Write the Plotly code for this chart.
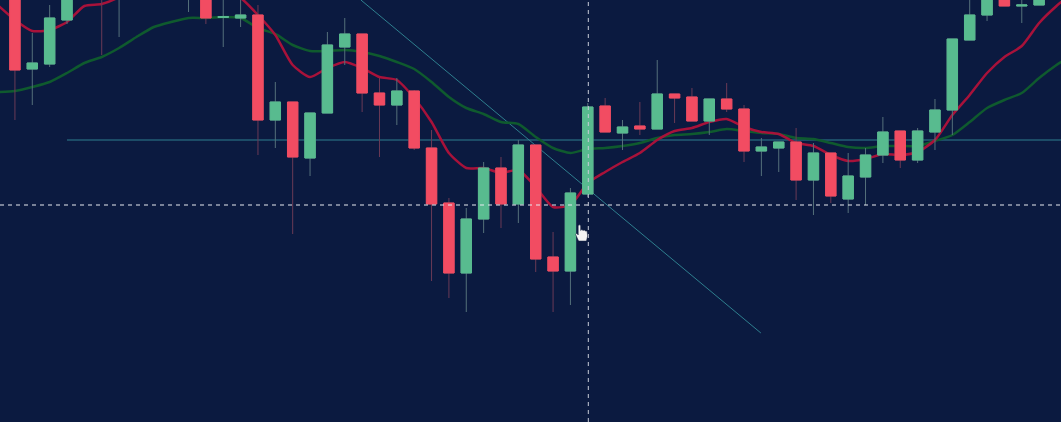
import plotly.graph_objects as go

candle_index = list(range(61))
opens = [432,353,358,402,467,462,432,442,472,437,427,427,404.5,404,407,302,320,264,309,375,388,329,317,331,274,219,149,203,254,218,277,165,151,228,316,289,296,293,328,325,301,323,313,271,274,280,242,269,223,245,267,291,262,290,312,382,407,427,416,417,445]
highs = [442,389,417,437,477,472,462,482,482,472,462,437,427,427,417,340,320,309,390,404,388,344,344,332,292,224,214,260,265,282,277,190,234,319,324,302,320,362,328,334,323,339,317,284,280,294,279,269,269,274,305,291,294,323,383,422,437,437,432,437,450]
lows = [302,317,355,398,427,367,385,427,430,427,410,398,375,395,267,274,188,246,309,357,310,265,297,272,141,124,110,189,194,199,150,110,117,225,290,272,287,293,299,301,287,310,260,246,250,222,207,219,209,217,259,254,259,272,287,382,401,416,399,417,430]
closes = [352,359,404,427,437,432,452,472,442,462,452,404,405.5,407,302,320,265,309,377,388,329,317,331,274,218,149,203,254,218,277,163,151,229,315,290,295,293,328,324,301,323,313,271,275,280,242,269,226,246,267,290,262,291,312,383,407,427,416,417,427,435]

ma_index = list(range(-1, 62))
ma_fast = [417,402,391,392,400,416,418,425,437,447,452,447,437,430,424,407,387,357,345,354,360,354,345,342,324,300,269,254,254,249,252,235,215,217,239,250,260,269,282,291,294,300,303,295,290,288,279,276,267,261,263,268,267,270,282,307,327,349,365,376,399,416,430]
ma_slow = [330,331,335,340,349,359,365,374,385,395,400,404,404,405,404,394,388,377,371,371,372,370,366,360,353,340,325,314,308,300,298,285,274,269,273,274,276,279,284,287,288,290,293,291,289,288,284,283,279,275,274,276,276,276,281,287,300,314,322,329,344,357,368]

level_x = [3.0, 60.3]
level_y = [282, 282]
trend_x = [19.93, 42.97]
trend_y = [422, 89]
cross_h_x = [-0.86, 60.3]
cross_h_y = [217, 217]
cross_v_x = [33.03, 33.03]
cross_v_y = [0, 422]

X_RANGE = [-0.86, 60.26]
Y_RANGE = [0, 422]
BG = "#0B1A40"

fig = go.Figure()
fig.add_trace(go.Scatter(x=level_x, y=level_y, mode="lines", line=dict(color="#2F7F8E", width=1), hoverinfo="skip"))
fig.add_trace(go.Scatter(x=trend_x, y=trend_y, mode="lines", line=dict(color="#2F7F8E", width=1), hoverinfo="skip"))
fig.add_trace(go.Scatter(x=ma_index, y=ma_slow, mode="lines", line=dict(color="#0F5A2E", width=2.5, shape="spline", smoothing=0.6), hoverinfo="skip"))
fig.add_trace(go.Scatter(x=ma_index, y=ma_fast, mode="lines", line=dict(color="#A8123A", width=2.5, shape="spline", smoothing=0.6), hoverinfo="skip"))

fig.add_trace(go.Candlestick(
    x=candle_index, open=opens, high=highs, low=lows, close=closes,
    xaxis="x2", yaxis="y2", whiskerwidth=0,
    increasing=dict(line=dict(color="#55707A", width=1), fillcolor="#58BB8F"),
    decreasing=dict(line=dict(color="#6B3A55", width=1), fillcolor="#F24C62"),
    hoverinfo="skip",
))
fig.add_trace(go.Candlestick(
    x=candle_index, open=opens, close=closes,
    high=[max(o, c) for o, c in zip(opens, closes)],
    low=[min(o, c) for o, c in zip(opens, closes)],
    xaxis="x2", yaxis="y2", whiskerwidth=0,
    increasing=dict(line=dict(color="#58BB8F", width=1), fillcolor="#58BB8F"),
    decreasing=dict(line=dict(color="#F24C62", width=1), fillcolor="#F24C62"),
    hoverinfo="skip",
))
fig.add_trace(go.Scatter(x=cross_h_x, y=cross_h_y, xaxis="x2", yaxis="y2", mode="lines", line=dict(color="#E8EAF0", width=1, dash="4px,4px"), hoverinfo="skip"))
fig.add_trace(go.Scatter(x=cross_v_x, y=cross_v_y, xaxis="x2", yaxis="y2", mode="lines", line=dict(color="#C8CCD8", width=1, dash="4px,4px"), hoverinfo="skip"))

HAND_PATH = "M 3 0 L 0 6.5 L 1 7.8 L 2.6 6 L 2.6 15 Q 3.8 17.5 5 15 L 5 10.5 L 6.2 11.5 L 7.4 10.5 L 8.6 11 L 9.8 10 L 11.4 10 L 12 5 L 10.8 0 Z"

hidden = dict(visible=False, showgrid=False, zeroline=False, fixedrange=True)
fig.update_layout(
    width=1061, height=422,
    margin=dict(l=0, r=0, t=0, b=0),
    paper_bgcolor=BG, plot_bgcolor=BG,
    showlegend=False,
    boxgap=0.4, boxgroupgap=0,
    xaxis=dict(range=X_RANGE, rangeslider=dict(visible=False), **hidden),
    yaxis=dict(range=Y_RANGE, **hidden),
    xaxis2=dict(range=X_RANGE, overlaying="x", rangeslider=dict(visible=False), **hidden),
    yaxis2=dict(range=Y_RANGE, overlaying="y", **hidden),
    shapes=[dict(type="path", path=HAND_PATH, xref="x2", yref="y2", xsizemode="pixel", ysizemode="pixel",
                 xanchor=32.3, yanchor=181, fillcolor="#F4F4F4", line=dict(color="#1A2440", width=0.5), layer="above")],
)
fig.write_html("out.html", post_script="document.body.style.margin='0';document.body.style.background='%s';" % BG, config={"displayModeBar": False})
